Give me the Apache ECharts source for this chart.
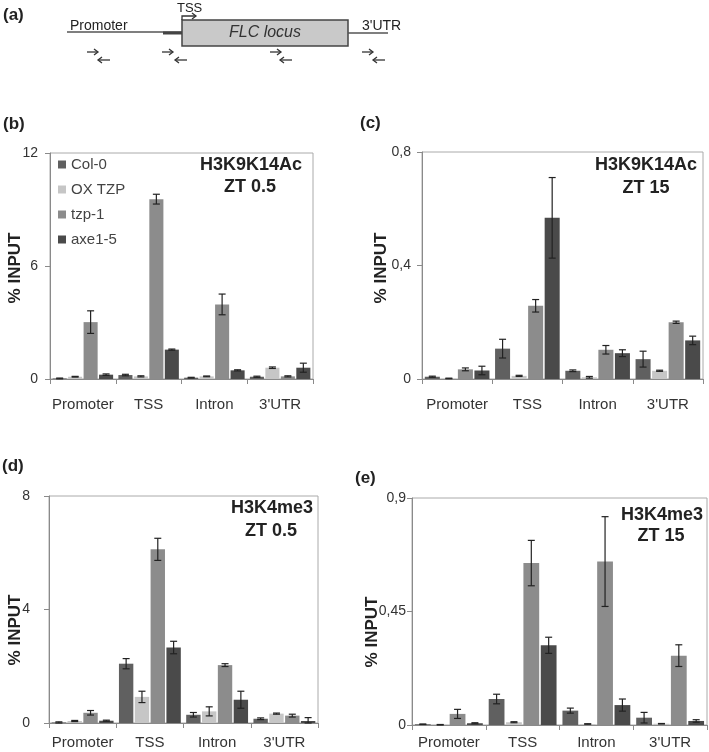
<!DOCTYPE html>
<html>
<head>
<meta charset="utf-8">
<script src="https://cdn.jsdelivr.net/npm/echarts@6/dist/echarts.min.js"></script>
<style>
html, body { margin: 0; padding: 0; background: #fff; }
#main { width: 709px; height: 752px; }
</style>
</head>
<body>
<div id="main"></div>
<script>
var categories = ['Promoter', 'TSS', 'Intron', "3'UTR"];
var lines = ['Col-0', 'OX TZP', 'tzp-1', 'axe1-5'];
var lineColors = ['#606060', '#c6c6c6', '#8c8c8c', '#4a4a4a'];

// rows = lines (Col-0, OX TZP, tzp-1, axe1-5), columns = categories
// (b) H3K9K14Ac ZT 0.5
var acZT05 = [
    [0.03, 0.21, 0.07, 0.12],
    [0.12, 0.14, 0.14, 0.60],
    [3.02, 9.55, 3.96, 0.14],
    [0.23, 1.56, 0.46, 0.60]
];
var acZT05Err = [
    [0.02, 0.04, 0.02, 0.03],
    [0.02, 0.03, 0.02, 0.04],
    [0.60, 0.26, 0.55, 0.03],
    [0.04, 0.03, 0.03, 0.24]
];
// (c) H3K9K14Ac ZT 15
var acZT15 = [
    [0.008, 0.107, 0.029, 0.070],
    [0.002, 0.011, 0.006, 0.029],
    [0.034, 0.258, 0.103, 0.200],
    [0.030, 0.568, 0.091, 0.136]
];
var acZT15Err = [
    [0.002, 0.033, 0.003, 0.028],
    [0.001, 0.002, 0.003, 0.002],
    [0.005, 0.022, 0.015, 0.004],
    [0.015, 0.142, 0.012, 0.015]
];
// (d) H3K4me3 ZT 0.5
var meZT05 = [
    [0.02, 2.09, 0.29, 0.15],
    [0.07, 0.92, 0.41, 0.33],
    [0.36, 6.12, 2.04, 0.26],
    [0.08, 2.66, 0.82, 0.07]
];
var meZT05Err = [
    [0.02, 0.18, 0.08, 0.03],
    [0.02, 0.20, 0.16, 0.02],
    [0.08, 0.39, 0.05, 0.05],
    [0.02, 0.22, 0.30, 0.12]
];
// (e) H3K4me3 ZT 15
var meZT15 = [
    [0.003, 0.103, 0.057, 0.029],
    [0.001, 0.011, 0.004, 0.005],
    [0.044, 0.642, 0.648, 0.275],
    [0.007, 0.316, 0.079, 0.016]
];
var meZT15Err = [
    [0.001, 0.019, 0.010, 0.021],
    [0.001, 0.002, 0.001, 0.001],
    [0.018, 0.090, 0.178, 0.043],
    [0.002, 0.032, 0.024, 0.005]
];

var panelMeans = [acZT05, acZT15, meZT05, meZT15];
var panelErrs = [acZT05Err, acZT15Err, meZT05Err, meZT15Err];
var yMax = [12, 0.8, 8, 0.9];
var yStep = [6, 0.4, 4, 0.45];

var grids = [
    {left: 50, top: 153, width: 263, height: 226},
    {left: 422, top: 152, width: 281, height: 227},
    {left: 49, top: 496, width: 269, height: 227},
    {left: 412, top: 498, width: 295, height: 227}
];
var xLabelMargin = [18, 18, 12, 10];
var yLabelMargin = [12, 11, 19, 6];

var CAT_GAP = 0.08, BAR_GAP = 0.1;
var FONT = "'Liberation Sans', Arial, sans-serif";

function errRender(k) {
    return function (params, api) {
        var ci = api.value(0), m = api.value(1), e = api.value(2);
        var band = api.size([1, 0])[0];
        var usable = band * (1 - CAT_GAP);
        var w = usable / (4 + 3 * BAR_GAP);
        var cx = api.coord([ci, 0])[0] - usable / 2 + k * w * (1 + BAR_GAP) + w / 2;
        var yt = api.coord([ci, m + e])[1];
        var yb = api.coord([ci, Math.max(m - e, 0)])[1];
        var st = {stroke: '#222', lineWidth: 1.2};
        return {
            type: 'group',
            children: [
                {type: 'line', shape: {x1: cx, y1: yt, x2: cx, y2: yb}, style: st},
                {type: 'line', shape: {x1: cx - 3.5, y1: yt, x2: cx + 3.5, y2: yt}, style: st},
                {type: 'line', shape: {x1: cx - 3.5, y1: yb, x2: cx + 3.5, y2: yb}, style: st}
            ]
        };
    };
}

var xAxes = [], yAxes = [], series = [];
for (var p = 0; p < 4; p++) {
    xAxes.push({
        type: 'category', gridIndex: p, data: categories,
        axisLine: {lineStyle: {color: '#8a8a8a', width: 1}},
        axisTick: {show: true, length: 5, lineStyle: {color: '#8a8a8a'}},
        axisLabel: {color: '#333', fontSize: 15, fontFamily: FONT, margin: xLabelMargin[p], interval: 0},
        splitLine: {show: false}
    });
    yAxes.push({
        type: 'value', gridIndex: p, min: 0, max: yMax[p], interval: yStep[p],
        axisLine: {show: true, lineStyle: {color: '#8a8a8a', width: 1}},
        axisTick: {show: true, length: 5, lineStyle: {color: '#8a8a8a'}},
        axisLabel: {
            color: '#333', fontSize: 14, fontFamily: FONT, margin: yLabelMargin[p],
            formatter: function (v) { return String(+v.toFixed(2)).replace('.', ','); }
        },
        splitLine: {show: false}
    });
    for (var k = 0; k < 4; k++) {
        series.push({
            name: lines[k], type: 'bar', xAxisIndex: p, yAxisIndex: p,
            data: panelMeans[p][k],
            barCategoryGap: (CAT_GAP * 100) + '%', barGap: (BAR_GAP * 100) + '%',
            itemStyle: {color: lineColors[k]},
            animation: false
        });
        var ed = [];
        for (var c = 0; c < categories.length; c++) {
            ed.push([c, panelMeans[p][k][c], panelErrs[p][k][c]]);
        }
        series.push({
            name: 'err', type: 'custom', xAxisIndex: p, yAxisIndex: p,
            renderItem: errRender(k), data: ed, encode: {x: 0, y: 1},
            z: 5, animation: false, silent: true
        });
    }
}

function txt(x, y, s, size, bold, align, extra) {
    var o = {
        type: 'text', x: x, y: y,
        style: {
            text: s, fill: '#222', fontSize: size, fontFamily: FONT,
            fontWeight: bold ? 'bold' : 'normal', align: align || 'left', verticalAlign: 'middle'
        }
    };
    if (extra) { for (var key in extra) { o[key] = extra[key]; } }
    return o;
}

function primer(x1, x2, y, right) {
    var tip = right ? x2 : x1, s = right ? -4 : 4;
    var st = {stroke: '#333', lineWidth: 1.3, fill: null};
    return [
        {type: 'line', shape: {x1: x1, y1: y, x2: x2, y2: y}, style: st},
        {type: 'polyline', shape: {points: [[tip + s, y - 3], [tip, y], [tip + s, y + 3]]}, style: st}
    ];
}

var lineSt = {stroke: '#555', lineWidth: 1.5};
var graphics = [
    txt(3, 15, '(a)', 17, true),
    txt(3, 124, '(b)', 17, true),
    txt(360, 123, '(c)', 17, true),
    txt(2, 466, '(d)', 17, true),
    txt(355, 478, '(e)', 17, true),
    // (a) locus sketch
    {type: 'line', shape: {x1: 67, y1: 32, x2: 182, y2: 32}, style: lineSt},
    {type: 'line', shape: {x1: 163, y1: 33, x2: 182, y2: 33}, style: {stroke: '#444', lineWidth: 3}},
    {type: 'rect', shape: {x: 182, y: 20, width: 166, height: 26}, style: {fill: '#c9c9c9', stroke: '#444', lineWidth: 1.5}},
    {type: 'line', shape: {x1: 348, y1: 33, x2: 388, y2: 33}, style: lineSt},
    {type: 'polyline', shape: {points: [[182, 20], [182, 16], [196, 16]]}, style: {stroke: '#333', lineWidth: 1.3, fill: null}},
    {type: 'polyline', shape: {points: [[192, 13], [196, 16], [192, 19]]}, style: {stroke: '#333', lineWidth: 1.3, fill: null}},
    {type: 'text', x: 265, y: 33, style: {text: 'FLC locus', fill: '#333', fontSize: 16, fontStyle: 'italic', fontFamily: FONT, align: 'center', verticalAlign: 'middle'}},
    txt(70, 26, 'Promoter', 14, false),
    txt(362, 26, "3'UTR", 14, false),
    txt(177, 8, 'TSS', 13, false),
    // y axis names
    txt(15, 268, '% INPUT', 17, true, 'center', {rotation: Math.PI / 2}),
    txt(381, 268, '% INPUT', 17, true, 'center', {rotation: Math.PI / 2}),
    txt(15, 630, '% INPUT', 17, true, 'center', {rotation: Math.PI / 2}),
    txt(372, 632, '% INPUT', 17, true, 'center', {rotation: Math.PI / 2}),
    // panel titles
    txt(251, 165, 'H3K9K14Ac', 18, true, 'center'),
    txt(250, 187, 'ZT 0.5', 18, true, 'center'),
    txt(646, 165, 'H3K9K14Ac', 18, true, 'center'),
    txt(646, 188, 'ZT 15', 18, true, 'center'),
    txt(272, 508, 'H3K4me3', 18, true, 'center'),
    txt(271, 531, 'ZT 0.5', 18, true, 'center'),
    txt(662, 515, 'H3K4me3', 18, true, 'center'),
    txt(661, 536, 'ZT 15', 18, true, 'center')
];
var primers = [[87, 98, 110], [162, 175, 187], [270, 280, 292], [362, 373, 385]];
for (var i = 0; i < primers.length; i++) {
    graphics = graphics.concat(primer(primers[i][0], primers[i][0] + 11, 52, true));
    graphics = graphics.concat(primer(primers[i][1], primers[i][2], 60, false));
}

var myChart = echarts.init(document.getElementById('main'), null, {renderer: 'canvas'});
var option = {
    backgroundColor: '#fff',
    animation: false,
    grid: grids.map(function (g) {
        return {left: g.left, top: g.top, width: g.width, height: g.height, show: true, borderColor: '#aaa', borderWidth: 1, backgroundColor: 'transparent'};
    }),
    legend: {
        data: lines, orient: 'vertical', left: 53, top: 152,
        icon: 'rect', itemWidth: 8, itemHeight: 8, itemGap: 10,
        textStyle: {color: '#444', fontSize: 15, fontFamily: FONT}
    },
    xAxis: xAxes,
    yAxis: yAxes,
    series: series,
    graphic: graphics
};
myChart.setOption(option);
</script>
</body>
</html>
